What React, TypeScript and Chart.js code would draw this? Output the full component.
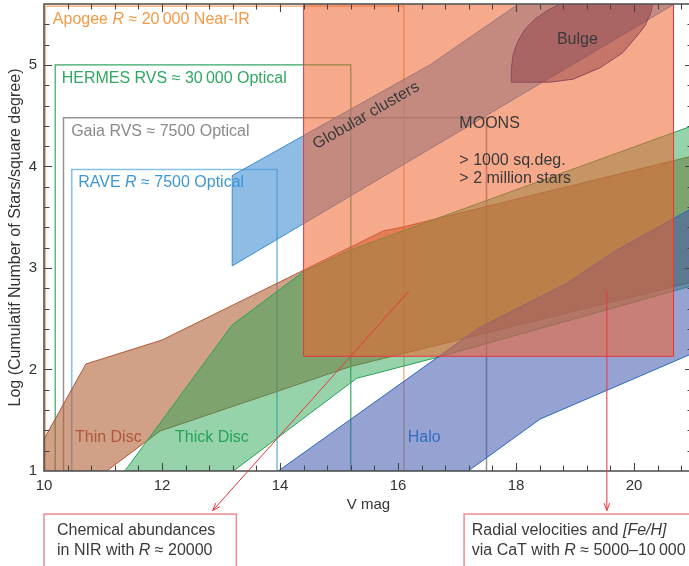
import { useEffect, useRef } from 'react';
import { Chart, registerables } from 'chart.js';

Chart.register(...registerables);

const FONT = '"Liberation Sans", Arial, Helvetica, sans-serif';

// ---------- axes ----------
const X_RANGE = [10, 21];
const Y_RANGE = [1, 5.6];
const X_TICK_LABELS = [10, 12, 14, 16, 18, 20];
const Y_TICK_LABELS = [1, 2, 3, 4, 5];
const X_MINOR_STEP = 0.4;
const Y_MINOR_STEP = 0.2;

// ---------- survey coverage boxes (V mag, log N) ----------
const APOGEE_X = [10.02, 10.02, 16.1, 16.1];
const APOGEE_Y = [1, 5.58, 5.58, 1];
const HERMES_X = [10.19, 10.19, 15.2, 15.2];
const HERMES_Y = [1, 5.0, 5.0, 1];
const GAIA_X = [10.33, 10.33, 17.5, 17.5];
const GAIA_Y = [1, 4.48, 4.48, 1];
const RAVE_X = [10.47, 10.47, 13.95, 13.95];
const RAVE_Y = [1, 3.97, 3.97, 1];

// ---------- MOONS ----------
const MOONS_X = [14.4, 14.4, 20.67, 20.67];
const MOONS_Y = [2.13, 5.65, 5.65, 2.13];

// ---------- populations ----------
const THIN_X = [10, 10, 10.71, 12.0, 15.75, 16.09, 21, 21, 15.19, 11.97, 11.06];
const THIN_Y = [1, 1.315, 2.054, 2.29, 3.365, 3.404, 4.104, 2.862, 2.028, 1.394, 1];
const THICK_X = [11.37, 13.19, 14.4, 15.19, 21, 21, 16.71, 15.3, 13.21];
const THICK_Y = [1, 2.438, 2.964, 3.177, 4.403, 2.827, 2.126, 1.913, 1];
const HALO_X = [13.97, 17.36, 18.86, 19.71, 21, 21, 18.41, 17.19];
const HALO_Y = [1, 2.406, 2.849, 3.177, 3.593, 2.16, 1.512, 1];
const GLOB_X = [13.19, 13.19, 16.54, 18.54, 21.27];
const GLOB_Y = [3.02, 3.91, 5.0, 5.8, 5.8];
const BULGE_X = [17.92, 17.92, 17.95, 18.03, 18.15, 18.32, 18.54, 18.75, 19.42, 20.24, 20.31, 20.29, 20.19, 20.1, 19.81, 19.42, 18.97, 18.58];
const BULGE_Y = [4.83, 4.95, 5.1, 5.23, 5.35, 5.45, 5.54, 5.6, 5.66, 5.66, 5.59, 5.52, 5.39, 5.32, 5.12, 4.97, 4.86, 4.83];

// ---------- annotations ----------
type Part = [string, boolean];
const TEXT_LABELS: { parts: Part[]; x: number; y: number; color: string; align?: CanvasTextAlign }[] = [
  { parts: [['Apogee ', false], ['R', true], [' \u2248 20\u2009000 Near-IR', false]], x: 10.15, y: 5.443, color: '#f39a45' },
  { parts: [['HERMES RVS \u2248 30\u2009000 Optical', false]], x: 10.3, y: 4.862, color: '#2fa862' },
  { parts: [['Gaia RVS \u2248 7500 Optical', false]], x: 10.46, y: 4.343, color: '#8a8a8a' },
  { parts: [['RAVE ', false], ['R', true], [' \u2248 7500 Optical', false]], x: 10.58, y: 3.842, color: '#3d97d6' },
  { parts: [['MOONS', false]], x: 17.04, y: 4.419, color: '#3a3a3a' },
  { parts: [['> 1000 sq.deg.', false]], x: 17.04, y: 4.057, color: '#3a3a3a' },
  { parts: [['> 2 million stars', false]], x: 17.04, y: 3.877, color: '#3a3a3a' },
  { parts: [['Bulge', false]], x: 19.04, y: 5.246, color: '#3a3a3a', align: 'center' },
  { parts: [['Thin Disc', false]], x: 10.525, y: 1.332, color: '#b3573a' },
  { parts: [['Thick Disc', false]], x: 12.22, y: 1.332, color: '#27a35a' },
  { parts: [['Halo', false]], x: 16.164, y: 1.325, color: '#2f6fc0' },
];
const GLOB_LABEL = { text: 'Globular clusters', x: 15.46, y: 4.5, angle: -30 };

const ARROWS = [
  { x1: 16.18, y1: 2.77, x2: 12.86, y2: 0.61 },
  { x1: 19.54, y1: 2.77, x2: 19.54, y2: 0.61 },
];
const NOTE_BOXES: { x1: number; x2: number; y1: number; y2: number; tx: number; lines: { parts: Part[]; y: number }[] }[] = [
  {
    x1: 10.0, x2: 13.26, y1: 0.576, y2: 0.02, tx: 10.22,
    lines: [
      { parts: [['Chemical abundances', false]], y: 0.409 },
      { parts: [['in NIR with ', false], ['R', true], [' \u2248 20000', false]], y: 0.212 },
    ],
  },
  {
    x1: 17.12, x2: 21.3, y1: 0.576, y2: 0.02, tx: 17.25,
    lines: [
      { parts: [['Radial velocities and ', false], ['[Fe/H]', true]], y: 0.409 },
      { parts: [['via CaT with ', false], ['R', true], [' \u2248 5000\u201310\u2009000', false]], y: 0.212 },
    ],
  },
];

const pts = (xs: number[], ys: number[], close: boolean) => {
  const p = xs.map((x, i) => ({ x, y: ys[i] }));
  if (close) p.push({ ...p[0] });
  return p;
};

const makeTicks = (min: number, max: number, step: number) => {
  const out: number[] = [];
  for (let i = 0; ; i++) {
    const v = Math.round((min + i * step) * 1000) / 1000;
    if (v > max + 1e-9) break;
    out.push(v);
  }
  return out;
};

function drawRich(ctx: CanvasRenderingContext2D, parts: Part[], x: number, y: number, color: string, size: number, align: CanvasTextAlign = 'left') {
  ctx.save();
  ctx.fillStyle = color;
  ctx.textBaseline = 'middle';
  ctx.textAlign = 'left';
  let total = 0;
  for (const [t, it] of parts) {
    ctx.font = `${it ? 'italic ' : ''}${size}px ${FONT}`;
    total += ctx.measureText(t).width;
  }
  let cx = align === 'center' ? x - total / 2 : x;
  for (const [t, it] of parts) {
    ctx.font = `${it ? 'italic ' : ''}${size}px ${FONT}`;
    ctx.fillText(t, cx, y);
    cx += ctx.measureText(t).width;
  }
  ctx.restore();
}

const annotPlugin = {
  id: 'annot',
  afterDatasetsDraw(chart: any) {
    const { ctx, chartArea: a, scales } = chart;
    const sx = scales.x, sy = scales.y;
    const px = (v: number) => sx.getPixelForValue(v);
    const py = (v: number) => sy.getPixelForValue(v);
    ctx.save();
    ctx.beginPath();
    ctx.rect(a.left, a.top, a.right - a.left, a.bottom - a.top);
    ctx.clip();
    for (const L of TEXT_LABELS) drawRich(ctx, L.parts, px(L.x), py(L.y), L.color, 16, L.align || 'left');
    ctx.save();
    ctx.translate(px(GLOB_LABEL.x), py(GLOB_LABEL.y));
    ctx.rotate((GLOB_LABEL.angle * Math.PI) / 180);
    ctx.font = `16px ${FONT}`;
    ctx.fillStyle = '#3a3a3a';
    ctx.textAlign = 'center';
    ctx.textBaseline = 'middle';
    ctx.fillText(GLOB_LABEL.text, 0, 0);
    ctx.restore();
    ctx.restore();

    // frame + inward ticks
    ctx.save();
    ctx.strokeStyle = '#444';
    ctx.lineWidth = 1.1;
    for (const t of sx.ticks) {
      const v = t.value;
      if (v <= X_RANGE[0] + 1e-9 || v >= X_RANGE[1] - 1e-9) continue;
      const major = X_TICK_LABELS.includes(v);
      const L = major ? 8 : 5.5;
      const x = Math.round(px(v)) + 0.5;
      ctx.beginPath();
      ctx.moveTo(x, a.bottom);
      ctx.lineTo(x, a.bottom - L);
      ctx.moveTo(x, a.top);
      ctx.lineTo(x, a.top + L);
      ctx.stroke();
    }
    for (const t of sy.ticks) {
      const v = t.value;
      if (v <= Y_RANGE[0] + 1e-9 || v >= Y_RANGE[1] - 1e-9) continue;
      const major = Y_TICK_LABELS.includes(v);
      const L = major ? 8 : 5.5;
      const y = Math.round(py(v)) + 0.5;
      ctx.beginPath();
      ctx.moveTo(a.left, y);
      ctx.lineTo(a.left + L, y);
      ctx.moveTo(a.right, y);
      ctx.lineTo(a.right - L, y);
      ctx.stroke();
    }
    ctx.lineWidth = 1.6;
    ctx.strokeStyle = '#555';
    ctx.strokeRect(a.left, a.top, a.right - a.left, a.bottom - a.top);
    ctx.restore();
  },
  afterDraw(chart: any) {
    const { ctx, scales } = chart;
    const px = (v: number) => scales.x.getPixelForValue(v);
    const py = (v: number) => scales.y.getPixelForValue(v);
    ctx.save();
    ctx.strokeStyle = '#e8353d';
    ctx.lineWidth = 1;
    for (const A of ARROWS) {
      const x1 = px(A.x1), y1 = py(A.y1), x2 = px(A.x2), y2 = py(A.y2);
      ctx.beginPath();
      ctx.moveTo(x1, y1);
      ctx.lineTo(x2, y2);
      ctx.stroke();
      const ang = Math.atan2(y2 - y1, x2 - x1);
      const L = 8, w = 0.35;
      ctx.beginPath();
      ctx.moveTo(x2 - L * Math.cos(ang - w), y2 - L * Math.sin(ang - w));
      ctx.lineTo(x2, y2);
      ctx.lineTo(x2 - L * Math.cos(ang + w), y2 - L * Math.sin(ang + w));
      ctx.stroke();
    }
    for (const B of NOTE_BOXES) {
      ctx.strokeStyle = '#ef8a90';
      ctx.lineWidth = 1.5;
      const x1 = px(B.x1), x2 = px(B.x2), y1 = py(B.y1), y2 = py(B.y2);
      ctx.strokeRect(x1, y1, x2 - x1, y2 - y1);
      for (const ln of B.lines) drawRich(ctx, ln.parts, px(B.tx), py(ln.y), '#3a3a3a', 16);
    }
    ctx.restore();
  },
};

export default function App() {
  const ref = useRef<HTMLCanvasElement | null>(null);
  useEffect(() => {
    if (!ref.current) return;
    const common = { showLine: true, pointRadius: 0, pointHoverRadius: 0, tension: 0, borderWidth: 1 };
    const box = (label: string, xs: number[], ys: number[], color: string, w: number) => ({
      ...common, label, data: pts(xs, ys, false), borderColor: color, borderWidth: w, fill: false, order: 100,
    });
    const shape = (label: string, xs: number[], ys: number[], border: string, bg: string, order: number) => ({
      ...common, label, data: pts(xs, ys, true), borderColor: border, backgroundColor: bg, fill: 'shape', order,
    });
    const xTicks = makeTicks(X_RANGE[0], X_RANGE[1], X_MINOR_STEP);
    const yTicks = makeTicks(Y_RANGE[0], Y_RANGE[1], Y_MINOR_STEP);
    const chart = new Chart(ref.current, {
      type: 'line',
      data: {
        datasets: [
          box('Apogee', APOGEE_X, APOGEE_Y, '#f4a462', 1.2),
          box('HERMES', HERMES_X, HERMES_Y, '#35a865', 1.2),
          box('Gaia', GAIA_X, GAIA_Y, '#949494', 1.5),
          box('RAVE', RAVE_X, RAVE_Y, '#86c0e6', 1.6),
          shape('Thin Disc', THIN_X, THIN_Y, '#b0583a', 'rgba(177,97,55,0.6)', 90),
          shape('Thick Disc', THICK_X, THICK_Y, '#26a358', 'rgba(45,165,85,0.5)', 80),
          shape('Halo', HALO_X, HALO_Y, '#2a68bd', 'rgba(64,88,173,0.55)', 70),
          shape('Globular clusters', GLOB_X, GLOB_Y, '#3b8fd2', 'rgba(68,143,212,0.6)', 60),
          shape('MOONS', MOONS_X, MOONS_Y, '#e8353a', 'rgba(240,99,46,0.55)', 50),
          shape('Bulge', BULGE_X, BULGE_Y, '#8e4a5e', 'rgba(140,55,65,0.45)', 40),
        ] as any,
      },
      options: {
        animation: false,
        responsive: false,
        events: [],
        layout: { padding: { top: 4, right: 7, bottom: 0, left: 0 } },
        plugins: { legend: { display: false }, tooltip: { enabled: false } },
        scales: {
          x: {
            type: 'linear',
            position: 'bottom',
            min: X_RANGE[0],
            max: X_RANGE[1],
            afterBuildTicks: (s: any) => { s.ticks = xTicks.map((v) => ({ value: v })); },
            afterFit: (s: any) => { s.height = 95; s.paddingLeft = 0; s.paddingRight = 0; },
            grid: { display: false, drawTicks: false },
            border: { display: false },
            ticks: {
              autoSkip: false,
              maxRotation: 0,
              padding: 6,
              color: '#333',
              font: { family: FONT, size: 15 },
              callback: (v: any) => (X_TICK_LABELS.includes(Number(v)) ? String(v) : ''),
            },
            title: { display: true, text: 'V mag', color: '#333', font: { family: FONT, size: 15 }, padding: { top: 0, bottom: 52 } },
          },
          y: {
            type: 'linear',
            position: 'left',
            min: Y_RANGE[0],
            max: Y_RANGE[1],
            afterBuildTicks: (s: any) => { s.ticks = yTicks.map((v) => ({ value: v })); },
            afterFit: (s: any) => { s.width = 44; s.paddingTop = 0; s.paddingBottom = 0; },
            grid: { display: false, drawTicks: false },
            border: { display: false },
            ticks: {
              autoSkip: false,
              padding: 7,
              color: '#333',
              font: { family: FONT, size: 15 },
              callback: (v: any) => (Y_TICK_LABELS.includes(Number(v)) ? String(v) : ''),
            },
            title: {
              display: true,
              text: 'Log (Cumulatif Number of Stars/square degree)',
              color: '#333',
              font: { family: FONT, size: 16 },
              padding: { top: 6, bottom: 0 },
            },
          },
        },
      } as any,
      plugins: [annotPlugin],
    });
    return () => chart.destroy();
  }, []);
  return (
    <div style={{ position: 'fixed', left: 0, top: 0, width: 689, height: 566, overflow: 'hidden', background: '#fff' }}>
      <canvas ref={ref} width={700} height={566} style={{ display: 'block', width: 700, height: 566 }} />
    </div>
  );
}
